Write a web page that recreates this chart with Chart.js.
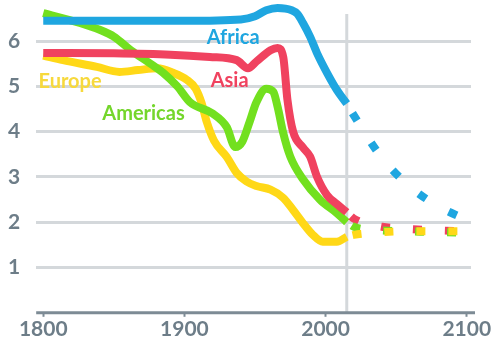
<!DOCTYPE html>
<html>
<head>
<meta charset="utf-8">
<script src="https://cdn.jsdelivr.net/npm/chart.js@4.4.1/dist/chart.umd.min.js"></script>
<style>
html,body{margin:0;padding:0;background:#fff;}
#wrap{width:500px;height:346px;}
</style>
</head>
<body>
<div id="wrap"><canvas id="chart"></canvas></div>
<script>
// children per woman by region, history up to 2015 then projection
const regionNames = ["Africa", "Asia", "Americas", "Europe"];

const africaYears = [1800, 1900, 1940, 1950, 1958, 1966, 1976, 1980, 1984, 1989, 1994, 2001, 2008, 2015];
const africaRate  = [6.45, 6.45, 6.48, 6.55, 6.68, 6.73, 6.68, 6.6, 6.4, 6.1, 5.73, 5.3, 4.92, 4.62];

const asiaYears = [1800, 1850, 1890, 1918, 1937, 1945, 1951, 1961, 1966, 1970, 1973, 1977, 1984, 1989, 1994, 2001, 2008, 2015];
const asiaRate  = [5.74, 5.73, 5.7, 5.65, 5.58, 5.4, 5.55, 5.8, 5.85, 5.65, 4.7, 4.0, 3.65, 3.45, 3.0, 2.6, 2.4, 2.22];

const americasYears = [1800, 1826, 1840, 1850, 1862, 1876, 1885, 1895, 1904, 1920, 1930, 1936, 1941, 1946, 1951, 1958, 1963, 1966, 1970, 1975, 1984, 1996, 2008, 2015];
const americasRate  = [6.62, 6.4, 6.25, 6.1, 5.8, 5.5, 5.3, 5.0, 4.65, 4.4, 4.1, 3.66, 3.78, 4.2, 4.65, 4.95, 4.88, 4.55, 3.97, 3.45, 2.95, 2.5, 2.2, 2.0];

const europeYears = [1800, 1814, 1838, 1854, 1867, 1881, 1892, 1902, 1908, 1912, 1916, 1921, 1930, 1937, 1944, 1951, 1961, 1970, 1977, 1984, 1991, 1998, 2008, 2015];
const europeRate  = [5.68, 5.58, 5.43, 5.32, 5.36, 5.4, 5.3, 5.14, 4.95, 4.65, 4.2, 3.8, 3.44, 3.09, 2.9, 2.8, 2.72, 2.54, 2.27, 1.98, 1.72, 1.57, 1.57, 1.68];

const projYears    = [2015, 2020, 2040, 2060, 2080, 2100];
const africaProj   = [4.62, 4.36, 3.42, 2.78, 2.35, 2.05];
const asiaProj     = [2.22, 2.08, 1.9, 1.85, 1.82, 1.8];
const americasProj = [2.0, 1.9, 1.82, 1.8, 1.78, 1.77];
const europeProj   = [1.68, 1.72, 1.78, 1.8, 1.8, 1.8];

const xTicks = [1800, 1900, 2000, 2100];
const yTicks = [1, 2, 3, 4, 5, 6];
const todayYear = 2015;

const BLUE = "#1fa6e0", RED = "#f0425f", GREEN = "#72e01f", YELLOW = "#ffd817";
const GRID = "#d4d8db", AXIS = "#7d8b95", TEXT = "#6d7d88";

const pts = (xs, ys) => xs.map((x, i) => ({x: x, y: ys[i]}));

function solid(data, color, order){
    return {data: data, borderColor: color, borderWidth: 8, order: order,
        pointRadius: 0, cubicInterpolationMode: "monotone", clip: false,
        borderJoinStyle: "round"};
}
function dashed(data, color, order, dash, offset){
    return {data: data, borderColor: color, borderWidth: 8, order: order,
        pointRadius: 0, cubicInterpolationMode: "monotone", clip: false,
        borderDash: dash, borderDashOffset: offset};
}

const decor = {
    id: "decor",
    beforeDatasetsDraw(chart){
        const {ctx, chartArea, scales: {x, y}} = chart;
        const px = x.getPixelForValue(todayYear);
        ctx.save();
        ctx.strokeStyle = GRID;
        ctx.lineWidth = 3;
        ctx.beginPath();
        ctx.moveTo(px, y.getPixelForValue(6.6));
        ctx.lineTo(px, y.getPixelForValue(0));
        ctx.stroke();
        // bottom axis runs a little past the grid
        ctx.strokeStyle = AXIS;
        ctx.beginPath();
        ctx.moveTo(chartArea.left, chartArea.bottom);
        ctx.lineTo(chartArea.right + 4, chartArea.bottom);
        ctx.stroke();
        ctx.restore();
    },
    afterDatasetsDraw(chart, args, opts){
        const {ctx, scales: {x, y}} = chart;
        ctx.save();
        ctx.font = "bold 20px Lato";
        ctx.textAlign = "center";
        ctx.textBaseline = "middle";
        opts.labels.forEach(l => {
            ctx.fillStyle = l.color;
            ctx.fillText(l.text, x.getPixelForValue(l.x), y.getPixelForValue(l.y));
        });
        ctx.restore();
    }
};

new Chart(document.getElementById("chart"), {
    type: "line",
    data: {
        datasets: [
            solid(pts(africaYears, africaRate), BLUE, 1),
            solid(pts(asiaYears, asiaRate), RED, 2),
            solid(pts(americasYears, americasRate), GREEN, 3),
            solid(pts(europeYears, europeRate), YELLOW, 4),
            dashed(pts(projYears, africaProj), BLUE, -1, [9, 26], 24),
            dashed(pts(projYears, asiaProj), RED, -2, [9, 23], 26),
            dashed(pts(projYears, americasProj), GREEN, -3, [9, 23], 26),
            dashed(pts(projYears, europeProj), YELLOW, -4, [9, 23], 26)
        ]
    },
    options: {
        responsive: true,
        maintainAspectRatio: false,
        animation: false,
        elements: {line: {capBezierPoints: false}},
        layout: {padding: {left: 8, right: 29, top: 0, bottom: 4}},
        plugins: {
            legend: {display: false},
            tooltip: {enabled: false},
            decor: {
                labels: [
                    {text: regionNames[0], x: 1934.5, y: 6.07, color: BLUE},
                    {text: regionNames[1], x: 1932, y: 5.12, color: RED},
                    {text: regionNames[2], x: 1871, y: 4.41, color: "#74d62b"},
                    {text: regionNames[3], x: 1819, y: 5.1, color: "#f7d93c"}
                ]
            }
        },
        scales: {
            x: {
                type: "linear",
                min: 1795,
                max: 2103,
                afterBuildTicks: s => { s.ticks = xTicks.map(v => ({value: v})); },
                grid: {drawOnChartArea: false, tickLength: 4, tickColor: AXIS, tickWidth: 2},
                border: {display: false},
                ticks: {color: TEXT, font: {family: "Lato", size: 21, weight: "bold"}, padding: 0,
                    maxRotation: 0, callback: v => String(v)}
            },
            y: {
                min: 0,
                max: 6.63,
                afterBuildTicks: s => { s.ticks = yTicks.map(v => ({value: v})); },
                grid: {color: GRID, lineWidth: 3, drawTicks: true, tickLength: 16, tickColor: "rgba(0,0,0,0)"},
                border: {display: false},
                ticks: {color: TEXT, font: {family: "Lato", size: 21, weight: "bold"}, padding: 0,
                    callback: v => String(v)}
            }
        }
    },
    plugins: [decor]
});
</script>
</body>
</html>
